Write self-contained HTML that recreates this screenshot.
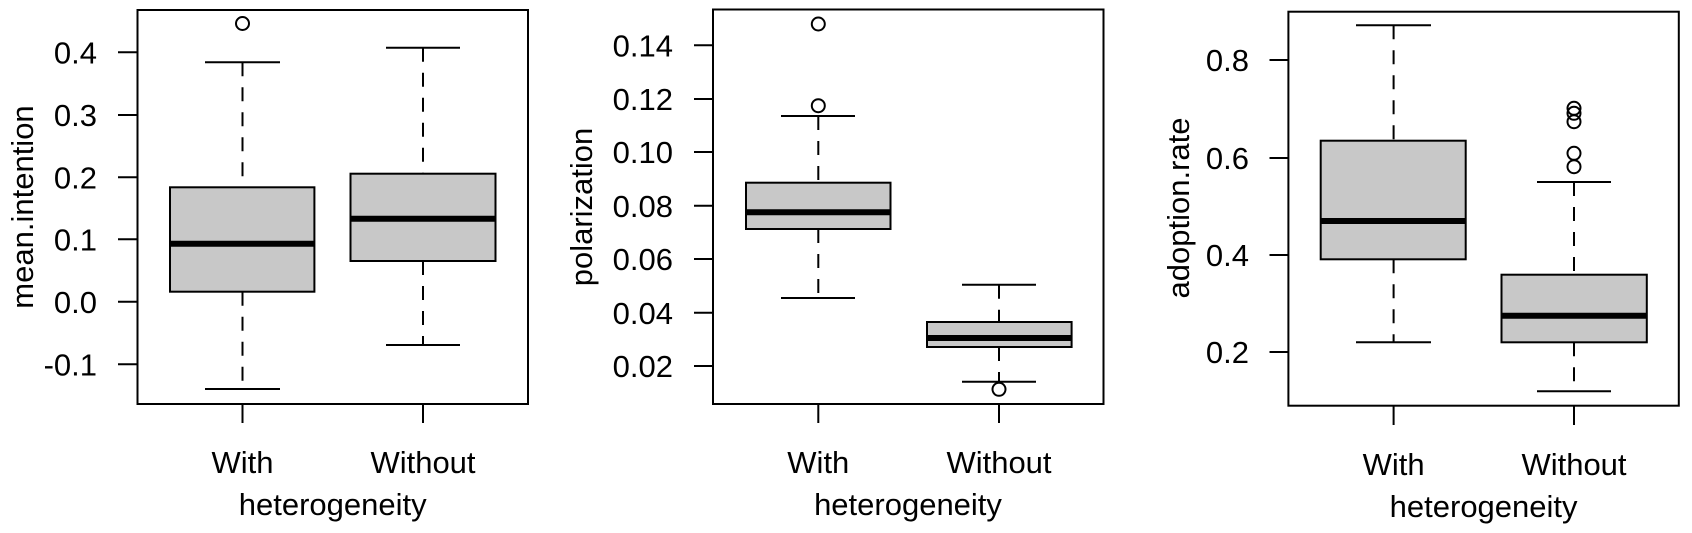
<!DOCTYPE html>
<html><head><meta charset="utf-8"><style>
html,body{margin:0;padding:0;background:#fff;}
svg{display:block;}
text{font-family:"Liberation Sans",Arial,sans-serif;font-size:31px;fill:#000;}
</style></head><body>
<svg width="1692" height="533" viewBox="0 0 1692 533" xmlns="http://www.w3.org/2000/svg">
<g stroke="#000" stroke-width="2" fill="none">
<!-- Panel 1 -->
<rect x="137.5" y="10" width="390.5" height="394"/>
<line x1="118" y1="52.3" x2="137.5" y2="52.3"/><line x1="118" y1="115" x2="137.5" y2="115"/>
<line x1="118" y1="177.3" x2="137.5" y2="177.3"/><line x1="118" y1="239.3" x2="137.5" y2="239.3"/>
<line x1="118" y1="301.7" x2="137.5" y2="301.7"/><line x1="118" y1="364.3" x2="137.5" y2="364.3"/>
<line x1="242.5" y1="404" x2="242.5" y2="423"/><line x1="423" y1="404" x2="423" y2="423"/>
<g stroke-dasharray="14 11"><line x1="242.5" y1="62.3" x2="242.5" y2="187.3"/><line x1="242.5" y1="291.7" x2="242.5" y2="389"/>
<line x1="423" y1="47.7" x2="423" y2="173.7"/><line x1="423" y1="261" x2="423" y2="345"/></g>
<line x1="205" y1="62.3" x2="280" y2="62.3"/><line x1="205" y1="389" x2="280" y2="389"/>
<line x1="386" y1="47.7" x2="460" y2="47.7"/><line x1="386" y1="345" x2="460" y2="345"/>
<rect x="170" y="187.3" width="144.4" height="104.4" fill="#c8c8c8"/>
<rect x="350.5" y="173.7" width="145" height="87.3" fill="#c8c8c8"/>
<line x1="170" y1="243.7" x2="314.4" y2="243.7" stroke-width="6"/>
<line x1="350.5" y1="218.7" x2="495.5" y2="218.7" stroke-width="6"/>
<circle cx="242.5" cy="23.5" r="6.5"/>
<!-- Panel 2 -->
<rect x="713" y="9.5" width="390.5" height="394.5"/>
<line x1="694" y1="45.3" x2="713" y2="45.3"/><line x1="694" y1="99" x2="713" y2="99"/>
<line x1="694" y1="152" x2="713" y2="152"/><line x1="694" y1="205.7" x2="713" y2="205.7"/>
<line x1="694" y1="259" x2="713" y2="259"/><line x1="694" y1="312.7" x2="713" y2="312.7"/>
<line x1="694" y1="366" x2="713" y2="366"/>
<line x1="818.3" y1="404" x2="818.3" y2="423"/><line x1="999" y1="404" x2="999" y2="423"/>
<g stroke-dasharray="14 11"><line x1="818.3" y1="116" x2="818.3" y2="182.7"/><line x1="818.3" y1="229" x2="818.3" y2="298"/>
<line x1="999" y1="284.7" x2="999" y2="322"/><line x1="999" y1="347" x2="999" y2="381.7"/></g>
<line x1="781" y1="116" x2="855" y2="116"/><line x1="781" y1="298" x2="855" y2="298"/>
<line x1="962" y1="284.7" x2="1036" y2="284.7"/><line x1="962" y1="381.7" x2="1036" y2="381.7"/>
<rect x="746" y="182.7" width="144.5" height="46.3" fill="#c8c8c8"/>
<rect x="927" y="322" width="144.6" height="25" fill="#c8c8c8"/>
<line x1="746" y1="212.3" x2="890.5" y2="212.3" stroke-width="6"/>
<line x1="927" y1="338" x2="1071.6" y2="338" stroke-width="6"/>
<circle cx="818.3" cy="24" r="6.5"/><circle cx="818.3" cy="105.7" r="6.5"/><circle cx="999" cy="389.3" r="6.5"/>
<!-- Panel 3 -->
<rect x="1288.4" y="11.7" width="390.4" height="394"/>
<line x1="1269.5" y1="60" x2="1288.4" y2="60"/><line x1="1269.5" y1="158" x2="1288.4" y2="158"/>
<line x1="1269.5" y1="255" x2="1288.4" y2="255"/><line x1="1269.5" y1="352" x2="1288.4" y2="352"/>
<line x1="1393.6" y1="405.7" x2="1393.6" y2="425"/><line x1="1574" y1="405.7" x2="1574" y2="425"/>
<g stroke-dasharray="14 11"><line x1="1393.6" y1="25.3" x2="1393.6" y2="140.7"/><line x1="1393.6" y1="259.3" x2="1393.6" y2="342.3"/>
<line x1="1574" y1="182" x2="1574" y2="274.7"/><line x1="1574" y1="342.3" x2="1574" y2="391.3"/></g>
<line x1="1356" y1="25.3" x2="1431" y2="25.3"/><line x1="1356" y1="342.3" x2="1431" y2="342.3"/>
<line x1="1537" y1="182" x2="1611" y2="182"/><line x1="1537" y1="391.3" x2="1611" y2="391.3"/>
<rect x="1320.7" y="140.7" width="145" height="118.6" fill="#c8c8c8"/>
<rect x="1501.5" y="274.7" width="145.3" height="67.6" fill="#c8c8c8"/>
<line x1="1320.7" y1="221" x2="1465.7" y2="221" stroke-width="6"/>
<line x1="1501.5" y1="315.7" x2="1646.8" y2="315.7" stroke-width="6"/>
<circle cx="1574" cy="108.3" r="6.5"/><circle cx="1574" cy="113.3" r="6.5"/><circle cx="1574" cy="121.7" r="6.5"/>
<circle cx="1574" cy="153.3" r="6.5"/><circle cx="1574" cy="166.7" r="6.5"/>
</g>
<!-- text -->
<g text-anchor="end">
<text x="97" y="63.5">0.4</text><text x="97" y="126">0.3</text><text x="97" y="188.5">0.2</text>
<text x="97" y="250.5">0.1</text><text x="97" y="313">0.0</text><text x="97" y="375.5">-0.1</text>
<text x="673" y="56.5">0.14</text><text x="673" y="110">0.12</text><text x="673" y="163">0.10</text>
<text x="673" y="217">0.08</text><text x="673" y="270">0.06</text><text x="673" y="324">0.04</text><text x="673" y="377">0.02</text>
<text x="1249" y="71">0.8</text><text x="1249" y="169">0.6</text><text x="1249" y="266">0.4</text><text x="1249" y="363">0.2</text>
</g>
<g text-anchor="middle">
<text x="242.5" y="473">With</text><text x="423" y="473">Without</text><text x="332.7" y="515">heterogeneity</text>
<text x="818.3" y="473">With</text><text x="999" y="473">Without</text><text x="908" y="515">heterogeneity</text>
<text x="1393.6" y="475">With</text><text x="1574" y="475">Without</text><text x="1483.6" y="517">heterogeneity</text>
<text transform="translate(33,207) rotate(-90)">mean.intention</text>
<text transform="translate(592,207) rotate(-90)">polarization</text>
<text transform="translate(1189,208) rotate(-90)">adoption.rate</text>
</g>
</svg>
</body></html>
